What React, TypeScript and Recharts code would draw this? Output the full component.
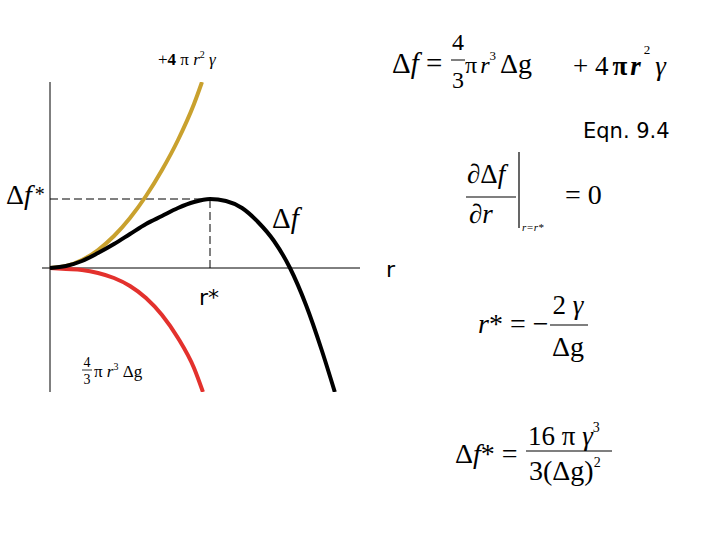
import React from 'react';
import { LineChart, Line, XAxis, YAxis, ReferenceLine } from 'recharts';

// radius (r) in arbitrary units, r* sits at 10
const rSurface = [0, 1, 2, 3, 4, 5, 6, 7, 8, 9, 9.5];
const fSurface = [0, 0.2, 0.8, 1.8, 3.2, 5.0, 7.2, 9.8, 12.8, 16.4, 18.6];

const rVolume = [0, 1, 2, 3, 4, 5, 6, 7, 8, 9, 9.56];
const fVolume = [0, -0.1, -0.2, -0.5, -1.0, -1.8, -3.0, -4.7, -7.0, -10.0, -12.4];

const rTotal = [0, 1, 2, 3, 4, 5, 6, 7, 8, 9, 10, 11, 12, 13, 14, 15, 16, 17, 17.8];
const fTotal = [0, 0.2, 0.7, 1.5, 2.4, 3.4, 4.4, 5.2, 6.0, 6.6, 6.9, 6.7, 6.0, 4.6, 2.7, 0, -3.7, -8.3, -12.4];

const rStar = 10;
const fStar = 6.9;

const GOLD = '#c9a12e';
const RED = '#e3312d';
const SERIF = "'Liberation Serif', 'DejaVu Serif', serif";
const HAND = "'DejaVu Sans', sans-serif";

const toRows = (rs: number[], fs: number[]) => rs.map((r, i) => ({ r, f: fs[i] }));

const surfaceData = toRows(rSurface, fSurface);
const volumeData = toRows(rVolume, fVolume);
const totalData = toRows(rTotal, fTotal);

const it = { fontStyle: 'italic' as const };

function Equations() {
  return (
    <svg
      width={720}
      height={540}
      style={{ position: 'absolute', left: 0, top: 0, pointerEvents: 'none', fontFamily: SERIF }}
      fill="#000"
    >
      {/* curve labels */}
      <text x={158} y={65} fontSize={17}>
        {'+'}<tspan fontWeight="bold">4</tspan>{' π '}<tspan style={it}>r</tspan>
        <tspan fontSize={10} dy={-7}>2</tspan>
        <tspan dy={7} style={it}>{' γ'}</tspan>
      </text>
      <text x={87} y={367} fontSize={14} textAnchor="middle">4</text>
      <line x1={82} x2={92} y1={370} y2={370} stroke="#000" strokeWidth={0.8} />
      <text x={87} y={384} fontSize={14} textAnchor="middle">3</text>
      <text x={94} y={377} fontSize={17}>
        {'π '}<tspan style={it}>r</tspan>
        <tspan fontSize={10} dy={-7}>3</tspan>
        <tspan dy={7}>{' Δg'}</tspan>
      </text>
      <text x={6} y={204} fontSize={28}>
        {'Δ'}<tspan style={it}>f</tspan>
        <tspan fontSize={20} dx={3} dy={-3}>*</tspan>
      </text>
      <text x={272} y={228} fontSize={29}>
        {'Δ'}<tspan style={it}>f</tspan>
      </text>
      <text x={199} y={305} fontSize={22} style={{ fontFamily: HAND }}>r*</text>
      <text x={386} y={277} fontSize={22} style={{ fontFamily: HAND }}>r</text>

      {/* main equation */}
      <text x={392} y={73} fontSize={29}>
        {'Δ'}<tspan style={it}>f</tspan>{' ='}
      </text>
      <text x={458} y={50} fontSize={24} textAnchor="middle">4</text>
      <line x1={451} x2={465} y1={60} y2={60} stroke="#000" strokeWidth={1} />
      <text x={458} y={88} fontSize={24} textAnchor="middle">3</text>
      <text x={465} y={73} fontSize={24}>
        {'π'}<tspan style={it} dx={3}>r</tspan>
        <tspan fontSize={13} dy={-13}>3</tspan>
        <tspan dy={13} dx={4} fontSize={28}>Δg</tspan>
      </text>
      <text x={573} y={75} fontSize={27}>
        {'+ 4'}<tspan fontWeight="bold" dx={4}>π</tspan>
        <tspan style={it} fontWeight="bold" dx={3}>r</tspan>
        <tspan fontSize={13} dy={-21} dx={3}>2</tspan>
        <tspan dy={21} style={it} dx={5}>γ</tspan>
      </text>
      <text x={583} y={138} fontSize={21} style={{ fontFamily: HAND }}>Eqn. 9.4</text>

      {/* derivative */}
      <text x={467} y={183} fontSize={27}>
        {'∂Δ'}<tspan style={it}>f</tspan>
      </text>
      <line x1={466} x2={516} y1={197} y2={197} stroke="#000" strokeWidth={1.2} />
      <text x={469} y={223} fontSize={27}>
        {'∂'}<tspan style={it}>r</tspan>
      </text>
      <line x1={519} x2={519} y1={152} y2={228} stroke="#000" strokeWidth={1.2} />
      <text x={522} y={231} fontSize={11} style={it}>r=r*</text>
      <text x={565} y={204} fontSize={28}>= 0</text>

      {/* critical radius */}
      <text x={478} y={333} fontSize={28}>
        <tspan style={it}>r</tspan>{'* = −'}
      </text>
      <text x={568} y={314} fontSize={27} textAnchor="middle">
        {'2 '}<tspan style={it}>γ</tspan>
      </text>
      <line x1={550} x2={588} y1={325} y2={325} stroke="#000" strokeWidth={1.2} />
      <text x={568} y={356} fontSize={28} textAnchor="middle">Δg</text>

      {/* barrier height */}
      <text x={455} y={463} fontSize={28}>
        {'Δ'}<tspan style={it}>f</tspan>{'* ='}
      </text>
      <text x={528} y={445} fontSize={27}>
        {'16 π '}<tspan style={it}>γ</tspan>
        <tspan fontSize={14} dy={-13}>3</tspan>
      </text>
      <line x1={526} x2={612} y1={451} y2={451} stroke="#000" strokeWidth={1.2} />
      <text x={529} y={480} fontSize={28}>
        {'3(Δg)'}<tspan fontSize={14} dy={-13}>2</tspan>
      </text>
    </svg>
  );
}

export default function App() {
  return (
    <div style={{ position: 'absolute', left: 0, top: 0, width: 720, height: 540, background: '#fff' }}>
      <LineChart width={720} height={540} margin={{ top: 82, right: 360, bottom: 148, left: 42 }}>
        <XAxis type="number" dataKey="r" domain={[-0.5, 19.375]} hide allowDataOverflow />
        <YAxis type="number" dataKey="f" domain={[-12.4, 18.6]} hide allowDataOverflow />
        <ReferenceLine x={0} stroke="#000" strokeWidth={1} />
        <ReferenceLine y={0} stroke="#000" strokeWidth={1} />
        <ReferenceLine
          segment={[{ x: 0, y: fStar }, { x: rStar, y: fStar }]}
          stroke="#000"
          strokeDasharray="8 4"
        />
        <ReferenceLine
          segment={[{ x: rStar, y: 0 }, { x: rStar, y: fStar }]}
          stroke="#000"
          strokeDasharray="8 4"
        />
        <Line data={surfaceData} dataKey="f" type="monotone" stroke={GOLD} strokeWidth={4} dot={false} isAnimationActive={false} />
        <Line data={volumeData} dataKey="f" type="monotone" stroke={RED} strokeWidth={4} dot={false} isAnimationActive={false} />
        <Line data={totalData} dataKey="f" type="monotone" stroke="#000" strokeWidth={4} dot={false} isAnimationActive={false} />
      </LineChart>
      <Equations />
    </div>
  );
}
